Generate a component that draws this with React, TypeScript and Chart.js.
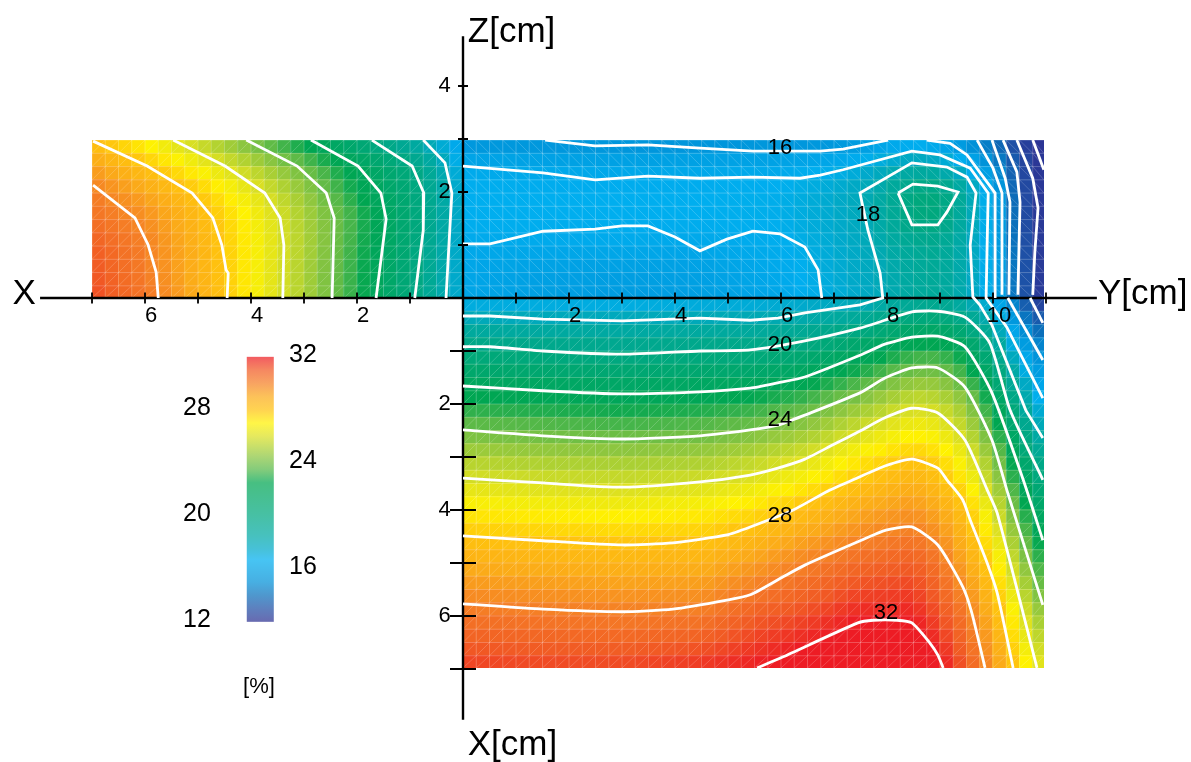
import React, { useEffect, useRef } from "react";
import { Chart, registerables } from "chart.js";

Chart.register(...registerables);

type P = [number, number];

const xzColumns = [-7, -6, -5, -4, -3, -2, -1, -0.5, 0];
const xzRows = [0, 0.5, 1, 1.5, 2, 2.5, 3];
const xzValues = [
  [31.3, 30.3, 28.9, 27.0, 25.1, 22.9, 20.3, 18.7, 17.0],
  [31.1, 30.1, 28.7, 27.0, 25.1, 22.9, 20.4, 18.8, 17.0],
  [30.9, 30.0, 28.7, 27.0, 25.2, 23.0, 20.6, 18.9, 17.1],
  [30.4, 29.7, 28.4, 26.9, 25.1, 23.1, 20.7, 19.0, 17.1],
  [30.1, 29.1, 27.9, 26.4, 24.7, 22.6, 20.6, 19.0, 17.0],
  [29.2, 28.0, 26.7, 25.3, 23.8, 22.0, 20.1, 18.6, 16.6],
  [28.0, 26.8, 25.4, 23.9, 22.2, 20.5, 18.6, 17.3, 15.7],
];

const yzColumns = [0, 1.5, 3, 4.5, 6, 7, 7.5, 8, 8.5, 9, 9.5, 10, 10.5, 10.96];
const yzRows = [0, 0.5, 1, 1.5, 2, 2.5, 3];
const yzValues = [
  [16.2, 15.8, 15.7, 15.8, 16.3, 17.1, 17.5, 18.0, 18.8, 19.0, 18.0, 16.4, 13.5, 12.0],
  [16.2, 15.9, 15.8, 15.9, 16.4, 17.2, 17.6, 18.1, 18.9, 19.1, 18.1, 16.4, 13.5, 12.0],
  [16.4, 16.4, 16.4, 16.3, 16.6, 17.3, 17.7, 18.4, 19.2, 19.3, 18.1, 16.3, 13.4, 12.0],
  [16.7, 16.7, 16.7, 16.7, 16.8, 17.4, 17.9, 18.8, 20.2, 20.2, 18.5, 16.3, 13.2, 12.0],
  [16.7, 16.7, 16.7, 16.7, 16.8, 17.4, 17.9, 18.8, 20.3, 20.3, 18.6, 16.2, 13.1, 12.0],
  [16.4, 16.2, 16.2, 16.2, 16.3, 16.6, 17.0, 17.6, 18.2, 18.0, 16.8, 15.0, 13.0, 12.0],
  [15.1, 15.1, 15.0, 15.0, 15.0, 15.0, 15.2, 15.8, 16.1, 15.7, 14.8, 13.8, 12.5, 12.0],
];

const xyColumns = [0, 1.5, 3, 4.5, 5.5, 6.5, 7.5, 8.5, 9, 9.5, 10, 10.5, 10.96];
const xyRows = [0, -1, -2, -3, -4, -5, -6, -7];
const xyValues = [
  [16.6, 16.6, 16.6, 16.7, 16.8, 17.0, 17.5, 18.8, 19.0, 18.0, 16.6, 13.5, 12.0],
  [20.2, 20.0, 19.8, 20.0, 20.1, 20.6, 21.7, 22.9, 23.0, 22.1, 20.0, 16.6, 14.5],
  [22.8, 22.6, 22.4, 22.6, 22.9, 23.5, 24.6, 25.8, 25.6, 24.6, 22.5, 19.4, 16.3],
  [25.1, 24.9, 24.8, 24.9, 25.3, 26.0, 27.1, 27.9, 27.5, 26.4, 24.5, 21.6, 18.9],
  [27.1, 26.9, 26.8, 27.0, 27.4, 28.2, 29.0, 29.5, 29.0, 28.0, 26.2, 23.4, 21.0],
  [28.8, 28.7, 28.6, 28.7, 29.3, 30.0, 30.6, 30.9, 30.3, 29.0, 27.6, 25.0, 22.7],
  [30.3, 30.2, 30.1, 30.2, 30.9, 31.3, 31.9, 31.9, 31.2, 30.2, 28.7, 26.5, 24.4],
  [31.5, 31.4, 31.4, 31.7, 32.0, 32.5, 33.0, 33.0, 32.2, 31.0, 29.6, 27.6, 26.0],
];

// Colour scale
const scaleValues = [12, 13, 14, 15, 16, 16.7, 17.5, 18.5, 20, 22.5, 23.5, 24.5, 26, 27, 28, 29, 30, 31, 32];
const scaleColours = [
  "#2e3192", "#1f4fa5", "#0b6fba", "#0090d7", "#00a2e5", "#00aeef", "#00a9c8", "#00a9a5", "#00a882",
  "#00a651", "#55b848", "#8dc63f", "#dbe021", "#fff200", "#ffc20e", "#fbaa19", "#f58025", "#f15a24", "#ed1c24",
];
const legendLeftLabels = [28, 20, 12];
const legendRightLabels = [32, 24, 16];

// Contour lines [cm]
const xz30: P[] = [[-6.98, 2.13], [-6.19, 1.51], [-5.94, 1.0], [-5.79, 0.49], [-5.75, 0]];
const xz28: P[] = [[-6.98, 2.96], [-5.96, 2.49], [-5.11, 1.98], [-4.72, 1.51], [-4.55, 1.0], [-4.47, 0.53], [-4.43, 0.47], [-4.45, 0]];
const xz26: P[] = [[-5.47, 2.98], [-4.49, 2.49], [-3.74, 1.98], [-3.45, 1.51], [-3.38, 1.0], [-3.4, 0]];
const xz24: P[] = [[-4.09, 2.98], [-3.13, 2.49], [-2.58, 1.98], [-2.43, 1.51], [-2.47, 0]];
const xz22: P[] = [[-2.87, 2.98], [-1.98, 2.49], [-1.55, 1.98], [-1.45, 1.49], [-1.64, 0]];
const xz20: P[] = [[-1.72, 2.98], [-0.96, 2.49], [-0.74, 1.98], [-0.75, 1.28], [-0.91, 0]];
const xz18: P[] = [[-0.75, 2.98], [-0.34, 2.55], [-0.21, 1.98], [-0.25, 1.28], [-0.32, 0]];

const yzTop: P[] = [[1.55, 2.98], [2.49, 2.87], [3.49, 2.89], [4.47, 2.83], [5.47, 2.77], [6.74, 2.77], [7.17, 2.81], [8.02, 2.98]];
const yzUpper: P[] = [[0, 2.49], [1.51, 2.36], [2.49, 2.23], [3.49, 2.3], [4.47, 2.26], [5.47, 2.28], [6.36, 2.26], [6.74, 2.32], [7.17, 2.42], [8.47, 2.77], [9.0, 2.7], [9.57, 2.45], [9.91, 1.98], [9.89, 1.04], [9.87, 0], [10.26, -0.55], [10.94, -1.89]];
const yzLower: P[] = [[0, 1.02], [0.51, 1.02], [1.51, 1.26], [2.49, 1.3], [3.0, 1.36], [3.49, 1.36], [4.0, 1.15], [4.47, 0.89], [4.98, 1.11], [5.47, 1.26], [5.98, 1.21], [6.45, 0.96], [6.7, 0.53], [6.77, 0]];
const yzLoop: P[] = [[8.21, 1.98], [8.49, 2.15], [8.96, 2.11], [9.34, 2.0], [9.13, 1.62], [8.96, 1.38], [8.47, 1.38], [8.21, 1.98]];
const edge1: P[] = [[8.75, 2.98], [9.19, 2.92], [9.51, 2.7], [10.04, 1.98], [10.04, 0]];
const edge2: P[] = [[9.7, 2.98], [10.0, 2.45], [10.17, 1.98], [10.17, 0.06]];
const edge3: P[] = [[9.98, 2.98], [10.23, 2.26], [10.32, 1.81], [10.3, 0.06]];
const edge4: P[] = [[10.19, 2.98], [10.45, 2.38], [10.51, 1.81], [10.47, 0.06]];
const edge5: P[] = [[10.45, 2.98], [10.75, 2.26], [10.85, 1.7], [10.79, 0.87], [10.75, 0.06]];
const edge6: P[] = [[10.75, 2.98], [10.96, 2.42]];
const edge7: P[] = [[10.28, 0], [10.94, -1.17]];
const edge8: P[] = [[10.7, 0], [10.94, -0.47]];

const line18: P[] = [[0, -0.34], [0.51, -0.34], [1.51, -0.4], [3.0, -0.43], [4.47, -0.38], [5.42, -0.42], [5.94, -0.38], [6.45, -0.28], [7.49, -0.13], [7.92, 0], [7.87, 0.47], [7.64, 1.28], [7.49, 1.98], [8.47, 2.55], [9.13, 2.47], [9.51, 2.28], [9.68, 1.98], [9.57, 1.0], [9.62, 0.02], [9.75, -0.13], [9.98, -0.51], [10.62, -2.12], [10.94, -2.64]];
const line20: P[] = [[0, -0.92], [0.51, -0.92], [1.51, -1.0], [3.0, -1.06], [4.47, -1.0], [5.42, -0.98], [6.45, -0.81], [7.49, -0.57], [7.96, -0.42], [8.47, -0.26], [8.96, -0.25], [9.47, -0.36], [9.94, -0.85], [10.32, -2.11], [10.94, -3.43]];
const line22: P[] = [[0, -1.66], [1.51, -1.75], [3.0, -1.81], [4.47, -1.77], [5.42, -1.7], [5.94, -1.6], [6.45, -1.49], [7.49, -1.08], [7.96, -0.87], [8.47, -0.74], [8.96, -0.72], [9.47, -0.92], [9.98, -1.79], [10.57, -3.43], [10.94, -4.57]];
const line24: P[] = [[0, -2.49], [1.51, -2.6], [3.0, -2.66], [4.47, -2.6], [5.42, -2.49], [5.94, -2.4], [6.45, -2.21], [7.49, -1.79], [7.96, -1.51], [8.47, -1.32], [8.96, -1.32], [9.47, -1.68], [9.98, -2.68], [10.26, -3.62], [10.94, -5.79]];
const line26: P[] = [[0, -3.4], [1.51, -3.49], [3.0, -3.57], [4.47, -3.47], [5.42, -3.34], [5.94, -3.21], [6.45, -3.04], [6.98, -2.77], [7.49, -2.51], [7.96, -2.26], [8.47, -2.08], [8.96, -2.17], [9.47, -2.68], [9.89, -3.62], [10.08, -4.06], [10.83, -6.98]];
const line28: P[] = [[0, -4.49], [1.51, -4.58], [3.0, -4.66], [3.96, -4.62], [4.98, -4.47], [5.42, -4.32], [6.23, -4.0], [6.89, -3.64], [7.43, -3.4], [7.96, -3.17], [8.47, -3.04], [8.96, -3.21], [9.13, -3.43], [9.43, -3.81], [9.57, -4.19], [9.89, -5.0], [10.08, -5.57], [10.38, -6.98]];
const line30: P[] = [[0, -5.77], [1.51, -5.87], [3.0, -5.92], [3.96, -5.87], [4.98, -5.7], [5.42, -5.6], [6.04, -5.26], [6.45, -5.04], [7.45, -4.6], [7.98, -4.38], [8.47, -4.32], [8.96, -4.66], [9.43, -5.45], [9.6, -5.94], [9.85, -6.98]];
const line32: P[] = [[5.55, -6.98], [6.04, -6.77], [7.45, -6.13], [7.74, -6.08], [8.19, -6.08], [8.47, -6.13], [8.81, -6.51], [8.96, -6.74], [9.06, -6.98]];

const angularContours: P[][] = [
  xz30, xz28, xz26, xz24, xz22, xz20, xz18, yzTop, yzUpper, yzLower, yzLoop,
  edge1, edge2, edge3, edge4, edge5, edge6, edge7, edge8, line18,
];
const smoothContours: P[][] = [line20, line22, line24, line26, line28, line30, line32];

// Axes
const horizontalAxis: P[] = [[-7.98, 0], [11.96, 0]];
const verticalAxis: P[] = [[0, 4.94], [0, -7.96]];
const horizontalTicks = [-7, -6, -5, -4, -3, -2, -1, 1, 2, 3, 4, 5, 6, 7, 8, 9, 10, 11];
const upperTicks = [1, 2, 3, 4];
const lowerTicks = [-1, -2, -3, -4, -5, -6, -7];
const horizontalLabels = [-6, -4, -2, 2, 4, 6, 8, 10];
const verticalLabels = [4, 2, -2, -4, -6];

// Texts placed on the chart, in cm
const FONT = '"Liberation Sans", Arial, sans-serif';
const contourTexts: [string, number, number][] = [
  ["16", 5.98, 2.83], ["18", 7.64, 1.57], ["20", 5.98, -0.89], ["24", 5.98, -2.3], ["28", 5.98, -4.11], ["32", 7.98, -5.94],
];
const titleTexts: [string, number, number][] = [
  ["X", -8.5, 0.07], ["Y[cm]", 11.98, 0.07], ["Z[cm]", 0.09, 5.02], ["X[cm]", 0.09, -8.44],
];

const hexToRgb = (h: string) => [1, 3, 5].map((i) => parseInt(h.slice(i, i + 2), 16));
function colourOf(v: number, alpha = 1) {
  const c = Math.min(scaleValues[scaleValues.length - 1], Math.max(scaleValues[0], v));
  let i = 0;
  while (i < scaleValues.length - 2 && c > scaleValues[i + 1]) i++;
  const t = (c - scaleValues[i]) / (scaleValues[i + 1] - scaleValues[i]);
  const a = hexToRgb(scaleColours[i]);
  const b = hexToRgb(scaleColours[i + 1]);
  const m = a.map((x, k) => Math.round(x + (b[k] - x) * t));
  return `rgba(${m[0]},${m[1]},${m[2]},${alpha})`;
}

function locate(list: number[], x: number) {
  const asc = list[list.length - 1] > list[0];
  let i = 0;
  while (i < list.length - 2 && (asc ? x > list[i + 1] : x < list[i + 1])) i++;
  return [i, (x - list[i]) / (list[i + 1] - list[i])];
}
function fieldAt(cols: number[], rows: number[], values: number[][], u: number, v: number) {
  const [i, s] = locate(cols, u);
  const [j, t] = locate(rows, v);
  const a = values[j][i] + (values[j][i + 1] - values[j][i]) * s;
  const b = values[j + 1][i] + (values[j + 1][i + 1] - values[j + 1][i]) * s;
  return a + (b - a) * t;
}

const panels = [
  { cols: xzColumns, rows: xzRows, values: xzValues, u0: -7, u1: 0, v0: 0, v1: 2.98, rising: true },
  { cols: yzColumns, rows: yzRows, values: yzValues, u0: 0, u1: 10.96, v0: 0, v1: 2.98, rising: false },
  { cols: xyColumns, rows: xyRows, values: xyValues, u0: 0, u1: 10.96, v0: -6.98, v1: 0, rising: true },
];
const CELL = 0.25;

const fieldPlugin = {
  id: "field",
  beforeDatasetsDraw(chart: any) {
    const { ctx, scales } = chart;
    const X = scales.x;
    const Y = scales.y;
    ctx.save();
    for (const p of panels) {
      const nu = Math.ceil((p.u1 - p.u0) / CELL - 1e-6);
      const nv = Math.ceil((p.v1 - p.v0) / CELL - 1e-6);
      for (let i = 0; i < nu; i++) {
        for (let j = 0; j < nv; j++) {
          const a = p.u0 + i * CELL;
          const b = Math.min(p.u1, a + CELL);
          const c = p.v1 - j * CELL;
          const d = Math.max(p.v0, c - CELL);
          const val = fieldAt(p.cols, p.rows, p.values, (a + b) / 2, (c + d) / 2);
          const px0 = X.getPixelForValue(a);
          const px1 = X.getPixelForValue(b);
          const py0 = Y.getPixelForValue(c);
          const py1 = Y.getPixelForValue(d);
          ctx.fillStyle = colourOf(val);
          ctx.fillRect(Math.floor(px0), Math.floor(py0), Math.ceil(px1) - Math.floor(px0), Math.ceil(py1) - Math.floor(py0));
        }
      }
      for (let i = 0; i < nu; i++) {
        for (let j = 0; j < nv; j++) {
          const a = p.u0 + i * CELL;
          const b = Math.min(p.u1, a + CELL);
          const c = p.v1 - j * CELL;
          const d = Math.max(p.v0, c - CELL);
          const px0 = X.getPixelForValue(a);
          const px1 = X.getPixelForValue(b);
          const py0 = Y.getPixelForValue(c);
          const py1 = Y.getPixelForValue(d);
          ctx.strokeStyle = "rgba(255,255,255,0.24)";
          ctx.lineWidth = 1;
          ctx.beginPath();
          ctx.moveTo(px0, py0);
          ctx.lineTo(px1, py0);
          ctx.moveTo(px0, py0);
          ctx.lineTo(px0, py1);
          ctx.stroke();
          ctx.strokeStyle = "rgba(255,255,255,0.28)";
          ctx.lineWidth = 0.7;
          ctx.beginPath();
          if (p.rising) {
            ctx.moveTo(px0, py1);
            ctx.lineTo(px1, py0);
          } else {
            ctx.moveTo(px0, py0);
            ctx.lineTo(px1, py1);
          }
          ctx.stroke();
        }
      }
    }
    // colour bar
    const bx0 = X.getPixelForValue(-4.08);
    const bx1 = X.getPixelForValue(-3.57);
    const by0 = Y.getPixelForValue(-1.11);
    const by1 = Y.getPixelForValue(-6.11);
    const g = ctx.createLinearGradient(0, by0, 0, by1);
    for (const s of scaleValues) g.addColorStop((32 - s) / 20, colourOf(s, 0.72));
    ctx.fillStyle = g;
    ctx.fillRect(bx0, by0, bx1 - bx0, by1 - by0);
    ctx.restore();
  },
  afterDatasetsDraw(chart: any) {
    const { ctx, scales } = chart;
    const X = scales.x;
    const Y = scales.y;
    const x0 = X.getPixelForValue(0);
    const y0 = Y.getPixelForValue(0);
    ctx.save();
    ctx.strokeStyle = "#000";
    ctx.lineWidth = 1.8;
    ctx.beginPath();
    for (const t of horizontalTicks) {
      const p = X.getPixelForValue(t);
      ctx.moveTo(p, y0 - 5.5);
      ctx.lineTo(p, y0 + 5.5);
    }
    for (const t of upperTicks) {
      const p = Y.getPixelForValue(t);
      ctx.moveTo(x0 - 5, p);
      ctx.lineTo(x0 + 5, p);
    }
    for (const t of lowerTicks) {
      const p = Y.getPixelForValue(t);
      ctx.moveTo(x0 - 13, p);
      ctx.lineTo(x0 + 13, p);
    }
    ctx.stroke();

    ctx.fillStyle = "#000";
    ctx.textBaseline = "middle";
    ctx.textAlign = "center";
    ctx.font = `22px ${FONT}`;
    for (const [s, u, v] of contourTexts) ctx.fillText(s, X.getPixelForValue(u), Y.getPixelForValue(v));

    ctx.font = `25px ${FONT}`;
    for (const val of legendLeftLabels)
      ctx.fillText(String(val), X.getPixelForValue(-5.02), Y.getPixelForValue(-1.07 - (32 - val) * 0.25));
    for (const val of legendRightLabels)
      ctx.fillText(String(val), X.getPixelForValue(-3.02), Y.getPixelForValue(-1.07 - (32 - val) * 0.25));
    ctx.font = `22px ${FONT}`;
    ctx.fillText("[%]", X.getPixelForValue(-3.85), Y.getPixelForValue(-7.34));

    ctx.font = `35px ${FONT}`;
    ctx.textAlign = "left";
    for (const [s, u, v] of titleTexts) ctx.fillText(s, X.getPixelForValue(u), Y.getPixelForValue(v));
    ctx.restore();
  },
};

const tickFont = { family: FONT, size: 22 };
const noScalePadding = (scale: any) => {
  scale.paddingTop = 0;
  scale.paddingBottom = 0;
  scale.paddingLeft = 0;
  scale.paddingRight = 0;
};

export default function App() {
  const ref = useRef<HTMLCanvasElement>(null);
  useEffect(() => {
    if (!ref.current) return;
    const contourSet = (c: P[], tension: number) => ({
      data: c.map(([x, y]) => ({ x, y })),
      showLine: true,
      fill: false,
      pointRadius: 0,
      borderColor: "#ffffff",
      borderWidth: 2.8,
      tension,
    });
    const axisSets = [horizontalAxis, verticalAxis].map((c) => ({
      data: c.map(([x, y]) => ({ x, y })),
      showLine: true,
      fill: false,
      pointRadius: 0,
      borderColor: "#000000",
      borderWidth: 2.4,
      tension: 0,
    }));
    const chart = new Chart(ref.current, {
      type: "scatter",
      data: {
        datasets: [
          ...angularContours.map((c) => contourSet(c, 0)),
          ...smoothContours.map((c) => contourSet(c, 0.2)),
          ...axisSets,
        ] as any,
      },
      plugins: [fieldPlugin as any],
      options: {
        animation: false,
        responsive: false,
        devicePixelRatio: 1,
        layout: { padding: 0 },
        plugins: { legend: { display: false }, tooltip: { enabled: false }, title: { display: false } },
        scales: {
          x: {
            type: "linear",
            min: -8.736,
            max: 13.736,
            position: { y: 0 } as any,
            afterFit: noScalePadding,
            border: { display: false },
            grid: { display: false, drawTicks: false },
            ticks: {
              stepSize: 1,
              autoSkip: false,
              maxRotation: 0,
              includeBounds: false,
              padding: 5,
              labelOffset: 6,
              z: 2,
              color: "#000",
              font: tickFont,
              callback: (v: any) => (horizontalLabels.includes(v) ? String(Math.abs(v)) : ""),
            },
          },
          y: {
            type: "linear",
            min: -8.755,
            max: 5.623,
            position: { x: 0 } as any,
            afterFit: noScalePadding,
            border: { display: false },
            grid: { display: false, drawTicks: false },
            ticks: {
              stepSize: 1,
              autoSkip: false,
              includeBounds: false,
              padding: 0,
              z: 2,
              color: "#000",
              font: tickFont,
              callback: (v: any) => (verticalLabels.includes(v) ? String(Math.abs(v)) + "  " : ""),
            },
          },
        },
      } as any,
    });
    return () => chart.destroy();
  }, []);
  return (
    <div style={{ position: "fixed", left: 0, top: 0, width: 1191, height: 762, background: "#fff" }}>
      <canvas ref={ref} width={1191} height={762} style={{ display: "block" }} />
    </div>
  );
}
